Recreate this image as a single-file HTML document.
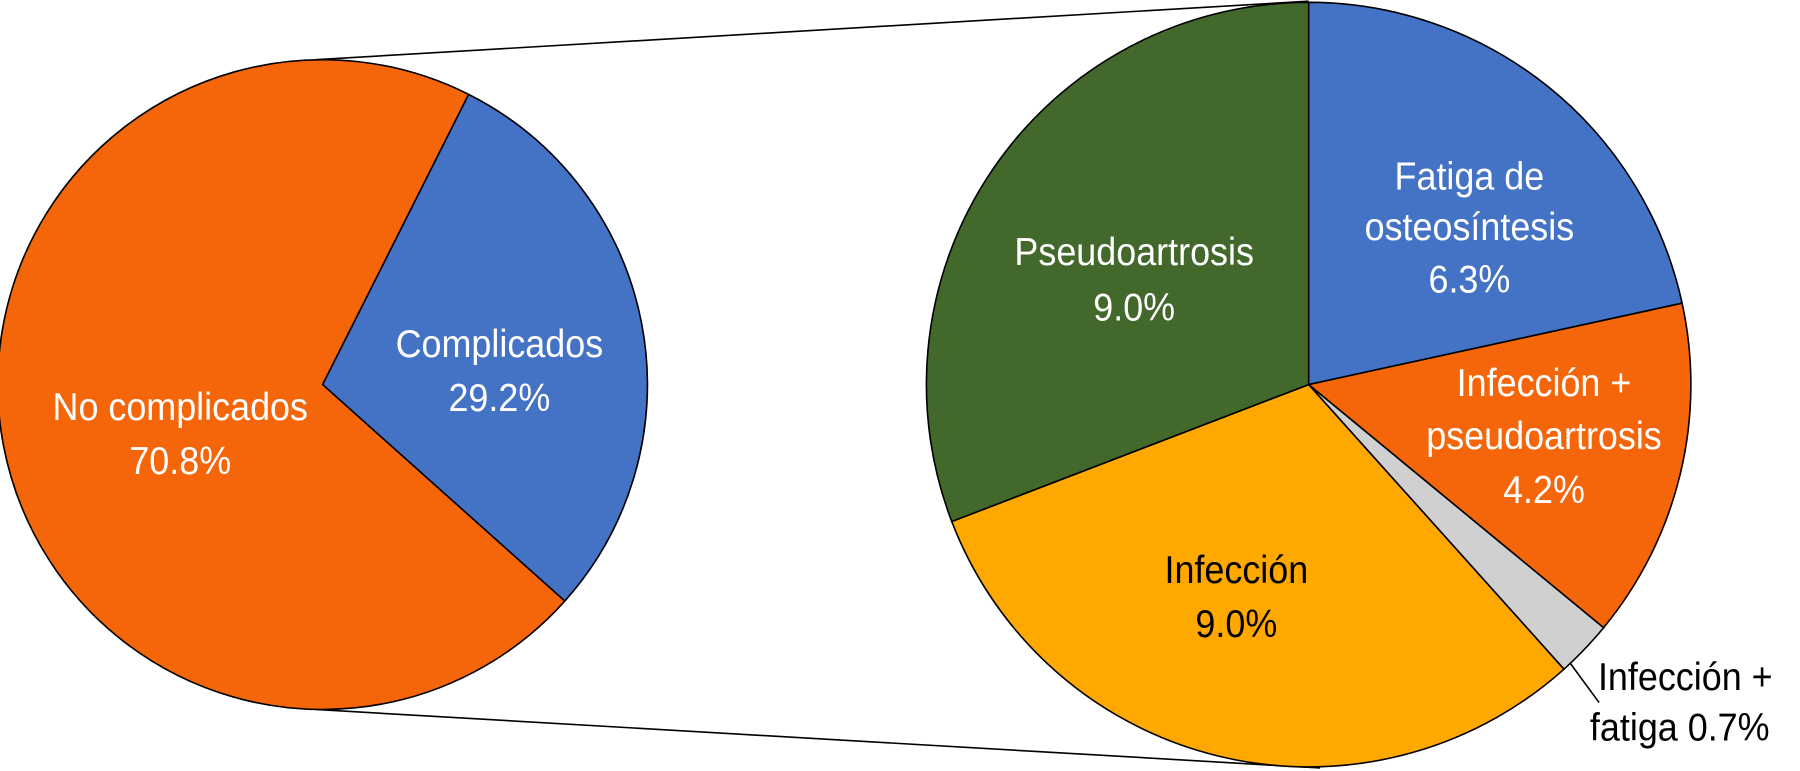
<!DOCTYPE html>
<html><head><meta charset="utf-8"><style>
html,body{margin:0;padding:0;background:#fff;}
svg{display:block;}
text{font-family:"Liberation Sans",Arial,sans-serif;font-size:34px;}
</style></head><body>
<svg width="1800" height="771" viewBox="0 0 1568 671.6" xmlns="http://www.w3.org/2000/svg">
<g stroke="#000" stroke-width="1.4" stroke-linejoin="round">
<line x1="275" y1="52" x2="1140" y2="1"/>
<line x1="275" y1="618" x2="1150" y2="669"/>
<path d="M281,335 L408.2,82.2 A283,283 0 0 1 492,523.6 Z" fill="#4472C4"/>
<path d="M281,335 L492,523.6 A283,283 0 1 1 408.2,82.2 Z" fill="#F5660A"/>
<path d="M1140,335 L1140,2 A333,333 0 0 1 1465.3,264.1 Z" fill="#4472C4"/>
<path d="M1140,335 L1465.3,264.1 A333,333 0 0 1 1396.9,546.8 Z" fill="#F5660A"/>
<path d="M1140,335 L1396.9,546.8 A333,333 0 0 1 1362.4,582.9 Z" fill="#D0D0D0"/>
<path d="M1140,335 L1362.4,582.9 A333,333 0 0 1 829.1,454.3 Z" fill="#FFA800"/>
<path d="M1140,335 L829.1,454.3 A333,333 0 0 1 1140,2 Z" fill="#43682B"/>
<line x1="1368" y1="578" x2="1393" y2="612"/>
</g>
<g fill="#fff" text-anchor="middle">
<text transform="translate(435 311) scale(0.92 1)">Complicados</text>
<text transform="translate(435 358) scale(0.92 1)">29.2%</text>
<text transform="translate(157 366) scale(0.92 1)">No complicados</text>
<text transform="translate(157 413) scale(0.92 1)">70.8%</text>
<text transform="translate(1280 165) scale(0.92 1)">Fatiga de</text>
<text transform="translate(1280 209) scale(0.92 1)">osteosíntesis</text>
<text transform="translate(1280 255) scale(0.92 1)">6.3%</text>
<text transform="translate(988 231) scale(0.92 1)">Pseudoartrosis</text>
<text transform="translate(988 279) scale(0.92 1)">9.0%</text>
<text transform="translate(1345 345) scale(0.92 1)">Infección +</text>
<text transform="translate(1345 391) scale(0.92 1)">pseudoartrosis</text>
<text transform="translate(1345 438) scale(0.92 1)">4.2%</text>
</g>
<g fill="#000" text-anchor="middle">
<text transform="translate(1077 508) scale(0.92 1)">Infección</text>
<text transform="translate(1077 555) scale(0.92 1)">9.0%</text>
</g>
<g fill="#000">
<text transform="translate(1392 601) scale(0.92 1)">Infección +</text>
<text transform="translate(1385 645) scale(0.92 1)">fatiga 0.7%</text>
</g>
</svg>
</body></html>
